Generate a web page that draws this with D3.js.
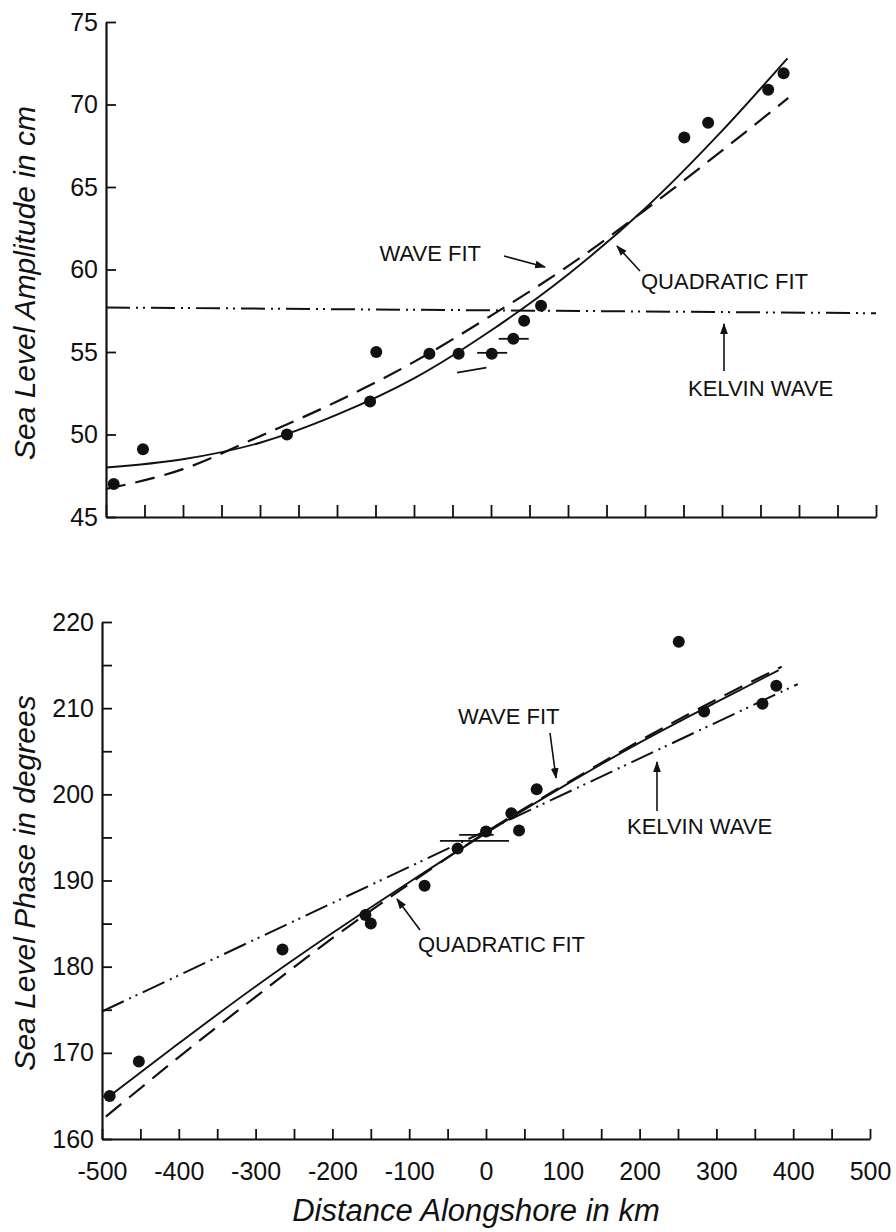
<!DOCTYPE html>
<html>
<head>
<meta charset="utf-8">
<script src="https://cdn.jsdelivr.net/npm/d3@7"></script>
<style>
  html, body { margin: 0; padding: 0; background: #fff; }
  svg { display: block; }
  .tick text { font-family: "Liberation Sans", Arial, sans-serif; font-size: 25px; fill: #111; }
  .ann { font-family: "Liberation Sans", Arial, sans-serif; font-size: 22px; fill: #111; }
  .title { font-family: "Liberation Sans", Arial, sans-serif; font-style: italic; font-size: 30px; fill: #111; }
</style>
</head>
<body>
<svg id="chart" width="896" height="1232"></svg>
<script>
// ---- Sea level amplitude (cm) at stations along the coast (km) ----
const ampDistance = [-490, -452, -265, -157, -149, -80, -42, 1, 29, 43, 65, 251, 282, 360, 380];
const ampValue    = [47.0, 49.1, 50.0, 52.0, 55.0, 54.9, 54.9, 54.9, 55.8, 56.9, 57.8, 68.0, 68.9, 70.9, 71.9];

// Fitted amplitude curves
const ampQuadDistance = [-500, -400, -300, -200, -100, 0, 100, 200, 300, 385];
const ampQuadValue    = [48.0, 48.5, 49.5, 51.2, 53.4, 56.3, 59.7, 63.7, 68.4, 72.8];
const ampWaveDistance = [-500, -400, -300, -200, -100, 0, 100, 200, 300, 386];
const ampWaveValue    = [46.7, 47.9, 49.9, 52.0, 54.4, 57.2, 60.2, 63.6, 67.2, 70.4];
const ampKelvinDistance = [-500, 500];
const ampKelvinValue    = [57.7, 57.35];

// Short horizontal range bars near the coastal origin
const ampBarStart = [-18, 10, -44];
const ampBarEnd   = [21, 49, -6];
const ampBarFrom  = [54.95, 55.8, 53.75];
const ampBarTo    = [54.95, 55.8, 54.05];

// ---- Sea level phase (degrees) at the same stations ----
const phaseDistance = [-490, -452, -265, -157, -150, -80, -37, 0, 33, 43, 66, 251, 284, 360, 378];
const phaseValue    = [165.0, 169.0, 182.0, 186.0, 185.0, 189.4, 193.7, 195.7, 197.8, 195.8, 200.6, 217.7, 209.6, 210.5, 212.6];

const phaseQuadDistance = [-490, -400, -300, -200, -100, 0, 100, 200, 300, 381];
const phaseQuadValue    = [165.0, 171.1, 177.7, 183.9, 189.8, 195.5, 200.9, 206.0, 210.7, 214.4];
const phaseWaveDistance = [-495, -400, -300, -200, -100, 0, 100, 200, 300, 385];
const phaseWaveValue    = [162.6, 169.5, 176.5, 183.3, 189.6, 195.6, 201.0, 206.2, 211.0, 214.8];
const phaseKelvinDistance = [-500, 406];
const phaseKelvinValue    = [174.8, 212.8];

const phaseBarStart = [-60, -35];
const phaseBarEnd   = [30, 10];
const phaseBarValue = [194.6, 195.3];

// ---- Axis ticks ----
const distanceTicks = d3.range(-500, 501, 50);
const distanceLabels = [-500, -400, -300, -200, -100, 0, 100, 200, 300, 400, 500];
const ampTicks = [45, 50, 55, 60, 65, 70, 75];
const phaseTicks = d3.range(160, 221, 5);
const phaseLabels = [160, 170, 180, 190, 200, 210, 220];

const svg = d3.select("#chart");

const defs = svg.append("defs");
defs.append("marker")
  .attr("id", "head")
  .attr("viewBox", "0 0 10 10")
  .attr("refX", 9).attr("refY", 5)
  .attr("markerWidth", 11).attr("markerHeight", 11)
  .attr("markerUnits", "userSpaceOnUse")
  .attr("orient", "auto")
  .append("path")
  .attr("d", "M0,1.5 L10,5 L0,8.5 Z")
  .attr("fill", "#111");

const ink = "#111";

function zip(xs, ys) { return xs.map((x, i) => [x, ys[i]]); }

function drawPanel(cfg) {
  const g = svg.append("g");
  const x = cfg.x, y = cfg.y;

  // axes
  const yAxis = d3.axisLeft(y)
    .tickValues(cfg.yTicks)
    .tickSize(-10)
    .tickSizeOuter(0)
    .tickPadding(8)
    .tickFormat(d => cfg.yLabels.includes(d) ? d : "");
  const yg = g.append("g").attr("transform", `translate(${x.range()[0]},0)`).call(yAxis);

  const xAxis = d3.axisBottom(x)
    .tickValues(distanceTicks)
    .tickSize(-cfg.xTickLen)
    .tickSizeOuter(0)
    .tickPadding(23)
    .tickFormat(d => cfg.xLabels.includes(d) ? d : "");
  const xg = g.append("g").attr("transform", `translate(0,${y.range()[0]})`).call(xAxis);

  [yg, xg].forEach(a => {
    a.select(".domain").attr("stroke", ink).attr("stroke-width", 2.2);
    a.selectAll(".tick line").attr("stroke", ink).attr("stroke-width", 1.8);
  });
  xg.selectAll(".tick text").attr("dy", "0.71em");

  const line = d3.line().x(d => x(d[0])).y(d => y(d[1]));
  const smooth = d3.line().curve(d3.curveMonotoneX).x(d => x(d[0])).y(d => y(d[1]));

  // Kelvin wave
  g.append("path")
    .attr("d", line(zip(cfg.kelvinX, cfg.kelvinV)))
    .attr("fill", "none").attr("stroke", ink).attr("stroke-width", 2)
    .attr("stroke-dasharray", "24,6,2,5,2,6");

  // wave fit
  g.append("path")
    .attr("d", smooth(zip(cfg.waveX, cfg.waveV)))
    .attr("fill", "none").attr("stroke", ink).attr("stroke-width", 2.2)
    .attr("stroke-dasharray", "20,10");

  // quadratic fit
  g.append("path")
    .attr("d", smooth(zip(cfg.quadX, cfg.quadV)))
    .attr("fill", "none").attr("stroke", ink).attr("stroke-width", 1.9);

  // range bars
  cfg.bars.forEach(b => {
    g.append("line")
      .attr("x1", x(b[0])).attr("x2", x(b[1]))
      .attr("y1", y(b[2])).attr("y2", y(b[3]))
      .attr("stroke", ink).attr("stroke-width", 1.8);
  });

  // observations
  g.selectAll("circle.obs")
    .data(zip(cfg.obsX, cfg.obsV))
    .join("circle")
    .attr("class", "obs")
    .attr("cx", d => x(d[0])).attr("cy", d => y(d[1]))
    .attr("r", 6).attr("fill", ink);

  // labels with arrows
  cfg.notes.forEach(n => {
    g.append("text").attr("class", "ann")
      .attr("x", n.tx).attr("y", n.ty)
      .attr("text-anchor", n.anchor || "start")
      .text(n.text);
    g.append("line")
      .attr("x1", n.a[0]).attr("y1", n.a[1])
      .attr("x2", n.a[2]).attr("y2", n.a[3])
      .attr("stroke", ink).attr("stroke-width", 1.6)
      .attr("marker-end", "url(#head)");
  });

  // vertical axis title
  svg.append("text").attr("class", "title")
    .attr("transform", `translate(${cfg.titleX},${cfg.titleY}) rotate(-90)`)
    .attr("text-anchor", "middle")
    .text(cfg.title);
}

drawPanel({
  x: d3.scaleLinear([-500, 500], [106, 876]),
  y: d3.scaleLinear([45, 75], [517, 22]),
  yTicks: ampTicks, yLabels: ampTicks,
  xLabels: [], xTickLen: 12,
  obsX: ampDistance, obsV: ampValue,
  quadX: ampQuadDistance, quadV: ampQuadValue,
  waveX: ampWaveDistance, waveV: ampWaveValue,
  kelvinX: ampKelvinDistance, kelvinV: ampKelvinValue,
  bars: ampBarStart.map((s, i) => [s, ampBarEnd[i], ampBarFrom[i], ampBarTo[i]]),
  notes: [
    { text: "WAVE FIT", tx: 481, ty: 261, anchor: "end", a: [504, 256, 545, 267] },
    { text: "QUADRATIC FIT", tx: 641, ty: 289, a: [640, 271, 617, 246] },
    { text: "KELVIN WAVE", tx: 688, ty: 396, a: [724, 371, 724, 324] }
  ],
  title: "Sea Level Amplitude in cm", titleX: 35, titleY: 283
});

drawPanel({
  x: d3.scaleLinear([-500, 500], [102, 870]),
  y: d3.scaleLinear([160, 220], [1139, 622]),
  yTicks: phaseTicks, yLabels: phaseLabels,
  xLabels: distanceLabels, xTickLen: 10,
  obsX: phaseDistance, obsV: phaseValue,
  quadX: phaseQuadDistance, quadV: phaseQuadValue,
  waveX: phaseWaveDistance, waveV: phaseWaveValue,
  kelvinX: phaseKelvinDistance, kelvinV: phaseKelvinValue,
  bars: phaseBarStart.map((s, i) => [s, phaseBarEnd[i], phaseBarValue[i], phaseBarValue[i]]),
  notes: [
    { text: "WAVE FIT", tx: 458, ty: 724, a: [550, 733, 556, 778] },
    { text: "KELVIN WAVE", tx: 627, ty: 834, a: [657, 811, 657, 762] },
    { text: "QUADRATIC FIT", tx: 418, ty: 952, a: [420, 930, 397, 899] }
  ],
  title: "Sea Level Phase in degrees", titleX: 35, titleY: 883
});

// shared distance axis title
svg.append("text").attr("class", "title")
  .attr("x", 476).attr("y", 1221)
  .attr("text-anchor", "middle")
  .style("font-size", "31px")
  .text("Distance Alongshore in km");
</script>
</body>
</html>
